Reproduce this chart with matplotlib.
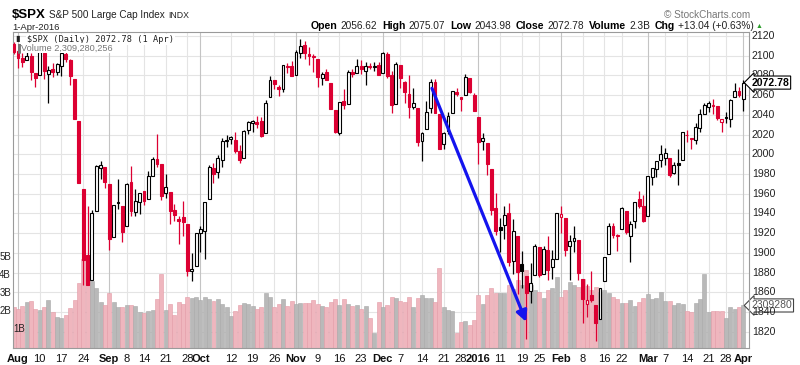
import matplotlib

matplotlib.use("Agg")
import matplotlib.pyplot as plt
import numpy as np
import pandas as pd

plt.rcParams["font.family"] = ["Liberation Sans", "DejaVu Sans"]

W, H = 800, 365
RED = "#dc0032"
PINK = "#efb6be"
GRAY = "#b9b9b9"
GRID = "#e4e4e4"
MONTH_GRID = "#c4c4c4"

HOLIDAYS = ["2015-09-07", "2015-11-26", "2015-12-25", "2016-01-01",
            "2016-01-18", "2016-02-15", "2016-03-25"]
PREV_CLOSE = 2108.63  # close of 30-Jul-2015

# one row per week
opens = [
    2111.6,
    2104.5, 2097.7, 2095.3, 2100.0, 2082.6,
    2080.9, 2102.7, 2081.1, 2086.2, 2083.2,
    2089.7, 2101.9, 2095.7, 2076.6, 2034.1,
    1965.2, 1898.1, 1872.8, 1942.8, 1986.1,
    1986.7, 1970.1, 1916.5, 1950.8, 1947.8,
    1927.3, 1971.5, 1941.6, 1951.5,
    1963.1, 1955.1, 1978.0, 1995.3, 1989.7,
    1960.8, 1961.4, 1943.2, 1934.8, 1935.9,
    1929.2, 1881.9, 1887.1, 1919.7, 1921.8,
    1954.3, 1986.6, 1982.3, 1994.0, 2013.7,
    2015.7, 2015.0, 2003.7, 1996.5, 2024.4,
    2031.7, 2033.1, 2033.5, 2021.9, 2058.2,
    2075.1, 2068.8, 2066.5, 2088.9, 2090.0,
    2080.8, 2102.6, 2110.6, 2101.7, 2098.6,
    2096.6, 2077.2, 2083.4, 2072.3, 2044.6,
    2022.1, 2053.7, 2051.0, 2083.7, 2082.8,
    2089.4, 2084.4, 2089.3, 2088.8,
    2090.9, 2082.9, 2101.7, 2080.7, 2051.2,
    2090.4, 2073.4, 2061.2, 2047.9, 2047.3,
    2013.4, 2025.6, 2046.5, 2073.8, 2040.8,
    2010.3, 2023.2, 2042.2, 2063.5,
    2057.8, 2060.5, 2077.3, 2060.6,
    2038.2, 2013.8, 2011.7, 1985.3, 1946.0,
    1926.1, 1927.8, 1940.3, 1891.7, 1916.7,
    1888.7, 1876.2, 1861.5, 1877.4,
    1906.3, 1878.8, 1902.5, 1885.2, 1894.0,
    1936.9, 1935.3, 1907.1, 1911.7, 1913.1,
    1873.3, 1848.5, 1857.1, 1847.0, 1833.4,
    1871.4, 1898.8, 1927.6, 1916.7,
    1924.4, 1942.4, 1917.6, 1931.9, 1955.0,
    1947.1, 1937.1, 1976.6, 1985.6, 1994.0,
    1996.1, 1996.1, 1981.4, 1991.0, 1994.7,
    2019.3, 2015.3, 2014.2, 2026.9, 2041.2,
    2047.9, 2048.6, 2048.6, 2032.5,
    2037.9, 2035.8, 2058.3, 2063.8, 2056.6,
]
highs = [
    2114.2,
    2105.7, 2102.5, 2112.7, 2103.3, 2082.6,
    2105.3, 2102.7, 2089.1, 2092.9, 2092.5,
    2102.9, 2103.5, 2096.2, 2076.6, 2034.1,
    1965.2, 1948.0, 1943.1, 1989.6, 1993.5,
    1986.7, 1970.1, 1948.9, 1975.0, 1947.8,
    1970.4, 1988.6, 1965.3, 1961.1,
    1963.1, 1983.2, 1997.3, 2020.9, 1989.7,
    1979.6, 1961.4, 1949.5, 1937.2, 1952.9,
    1929.2, 1899.5, 1920.5, 1927.2, 1951.4,
    1989.2, 1991.6, 1999.3, 2016.5, 2020.1,
    2018.7, 2022.3, 2009.6, 2024.2, 2033.5,
    2034.5, 2039.1, 2038.0, 2055.2, 2079.7,
    2075.1, 2070.4, 2090.4, 2092.5, 2094.3,
    2106.2, 2116.5, 2114.6, 2108.8, 2101.9,
    2096.6, 2083.7, 2086.9, 2072.3, 2044.6,
    2053.2, 2066.7, 2085.3, 2086.7, 2097.1,
    2095.6, 2094.1, 2093.0, 2093.3,
    2093.8, 2103.4, 2104.3, 2085.0, 2093.8,
    2090.4, 2073.9, 2080.3, 2067.7, 2047.3,
    2022.9, 2053.9, 2076.7, 2076.4, 2040.8,
    2022.9, 2042.7, 2064.7, 2067.4,
    2057.8, 2081.6, 2077.3, 2062.5,
    2038.2, 2021.9, 2011.7, 1985.3, 1960.4,
    1935.7, 1947.4, 1950.3, 1934.5, 1916.7,
    1901.4, 1876.2, 1889.9, 1908.9,
    1906.3, 1906.7, 1917.0, 1903.0, 1940.2,
    1947.2, 1935.3, 1918.0, 1927.4, 1913.1,
    1873.3, 1868.3, 1881.6, 1847.0, 1864.8,
    1895.8, 1930.7, 1930.0, 1918.8,
    1946.7, 1942.4, 1932.1, 1951.8, 1963.0,
    1958.3, 1978.4, 1986.5, 1993.7, 2009.1,
    2006.1, 1996.1, 1992.7, 2005.1, 2022.4,
    2024.6, 2015.9, 2032.0, 2046.2, 2052.4,
    2053.9, 2056.6, 2048.6, 2036.0,
    2042.7, 2055.9, 2072.2, 2067.9, 2075.1,
]
lows = [
    2102.1,
    2087.3, 2088.6, 2095.3, 2075.5, 2067.9,
    2080.9, 2076.5, 2052.1, 2078.3, 2080.6,
    2079.3, 2094.1, 2070.5, 2035.7, 1970.9,
    1867.0, 1867.1, 1872.8, 1942.8, 1975.2,
    1965.9, 1903.1, 1916.5, 1944.7, 1911.0,
    1927.3, 1937.9, 1937.2, 1939.2,
    1948.3, 1954.3, 1977.9, 1986.7, 1953.5,
    1955.8, 1929.2, 1932.6, 1908.9, 1916.8,
    1876.9, 1871.9, 1887.1, 1900.7, 1893.7,
    1954.3, 1971.2, 1976.4, 1987.5, 2007.6,
    2010.6, 2001.8, 1990.7, 1996.5, 2020.5,
    2022.3, 2026.6, 2017.2, 2021.9, 2058.2,
    2066.5, 2058.8, 2063.1, 2082.6, 2079.3,
    2080.8, 2097.5, 2097.0, 2090.4, 2083.7,
    2068.2, 2069.9, 2074.9, 2045.7, 2022.0,
    2019.4, 2045.9, 2051.0, 2078.8, 2082.8,
    2081.4, 2070.3, 2086.3, 2084.1,
    2080.4, 2082.9, 2077.1, 2042.4, 2051.2,
    2066.8, 2052.3, 2036.5, 2045.7, 2008.8,
    1993.3, 2025.6, 2042.4, 2041.7, 2005.3,
    2005.9, 2020.5, 2042.2, 2058.7,
    2044.2, 2060.5, 2062.0, 2043.6,
    1989.7, 2004.2, 1979.1, 1938.8, 1918.5,
    1901.1, 1914.4, 1886.5, 1878.9, 1857.8,
    1864.6, 1812.3, 1849.0, 1877.4,
    1876.0, 1878.8, 1872.7, 1873.7, 1894.0,
    1920.3, 1897.3, 1872.7, 1900.5, 1872.7,
    1828.5, 1834.9, 1850.3, 1810.1, 1833.4,
    1871.4, 1898.8, 1915.1, 1902.2,
    1924.4, 1919.4, 1891.0, 1925.4, 1945.8,
    1931.8, 1937.1, 1968.8, 1977.4, 1986.8,
    1989.4, 1977.4, 1979.8, 1969.2, 1994.7,
    2012.1, 2005.2, 2010.0, 2022.2, 2041.2,
    2043.1, 2040.6, 2034.9, 2022.5,
    2032.0, 2028.1, 2058.3, 2058.0, 2044.0,
]
closes = [
    2103.84,
    2098.04, 2093.32, 2099.84, 2083.56, 2077.57,
    2104.18, 2084.07, 2086.05, 2083.39, 2091.54,
    2102.44, 2096.92, 2079.61, 2035.73, 1970.89,
    1893.21, 1867.61, 1940.51, 1987.66, 1988.87,
    1972.18, 1913.85, 1948.86, 1951.13, 1921.22,
    1969.41, 1942.04, 1952.29, 1961.05,
    1953.03, 1978.09, 1995.31, 1990.20, 1958.03,
    1966.97, 1942.74, 1938.76, 1932.24, 1931.34,
    1881.77, 1884.09, 1920.03, 1923.82, 1951.36,
    1987.05, 1979.92, 1995.83, 2013.43, 2014.89,
    2017.46, 2003.69, 1994.24, 2023.86, 2033.11,
    2033.66, 2030.77, 2018.94, 2052.51, 2075.15,
    2071.18, 2065.89, 2090.35, 2089.41, 2079.36,
    2104.05, 2109.79, 2102.31, 2099.93, 2099.20,
    2078.58, 2081.72, 2075.00, 2045.97, 2023.04,
    2053.19, 2050.44, 2083.58, 2081.24, 2089.17,
    2086.59, 2089.14, 2088.87, 2090.11,
    2080.41, 2102.63, 2079.51, 2049.62, 2091.69,
    2077.07, 2063.59, 2047.62, 2052.23, 2012.37,
    2021.94, 2043.41, 2073.07, 2041.89, 2005.55,
    2021.15, 2038.97, 2064.29, 2060.99,
    2056.50, 2078.36, 2063.36, 2043.94,
    2012.66, 2016.71, 1990.26, 1943.09, 1922.03,
    1923.67, 1938.68, 1890.28, 1921.84, 1880.33,
    1881.33, 1859.33, 1868.99, 1906.90,
    1877.08, 1903.63, 1882.95, 1893.36, 1940.24,
    1939.38, 1903.03, 1912.53, 1915.45, 1880.05,
    1853.44, 1852.21, 1851.86, 1829.08, 1864.78,
    1895.58, 1926.82, 1917.83, 1917.78,
    1945.50, 1921.27, 1929.80, 1951.70, 1948.05,
    1932.23, 1978.35, 1986.45, 1993.40, 1999.99,
    2001.76, 1979.26, 1989.26, 1989.57, 2022.19,
    2019.64, 2015.93, 2027.22, 2040.59, 2049.58,
    2051.60, 2049.80, 2036.71, 2035.94,
    2037.05, 2055.01, 2063.95, 2059.74, 2072.78,
]
volumes_b = [
    2.22,
    2.10, 2.26, 2.48, 2.57, 2.10,
    2.04, 2.20, 2.63, 1.93, 1.67,
    1.60, 1.78, 2.17, 2.60, 3.55,
    4.85, 4.70, 3.65, 3.27, 2.52,
    2.36, 3.00, 2.48, 2.20, 2.24,
    2.33, 2.33, 2.27, 1.96,
    1.87, 2.00, 2.07, 2.65, 4.05,
    2.07, 2.40, 1.80, 2.50, 2.40,
    2.80, 2.70, 2.77, 2.60, 2.77,
    2.67, 2.55, 2.67, 2.40, 2.22,
    1.75, 1.98, 2.36, 2.44, 2.40,
    2.30, 2.13, 2.20, 3.00, 2.75,
    2.20, 2.40, 2.67, 2.27, 2.55,
    2.40, 2.44, 2.44, 2.44, 2.60,
    2.40, 2.27, 2.20, 2.50, 2.67,
    2.36, 2.67, 2.40, 2.30, 2.36,
    2.13, 2.30, 1.62, 0.80,
    2.50, 2.22, 2.36, 2.80, 2.70,
    2.57, 2.52, 2.80, 2.24, 2.74,
    2.88, 2.74, 2.70, 2.52, 4.35,
    2.20, 2.06, 2.02, 0.78,
    1.42, 1.48, 1.24, 1.51,
    2.88, 2.39, 2.88, 3.25, 3.01,
    3.01, 2.97, 3.43, 3.20, 3.70,
    3.43, 4.26, 3.43, 3.16,
    3.07, 2.74, 3.16, 3.25, 3.89,
    2.80, 3.16, 3.62, 3.43, 3.30,
    3.74, 3.38, 3.16, 3.34, 3.07,
    3.16, 3.01, 2.76, 2.65,
    2.46, 2.46, 2.60, 2.28, 2.52,
    2.74, 2.94, 2.67, 2.74, 3.07,
    2.57, 2.57, 2.34, 2.46, 2.39,
    2.00, 1.97, 2.43, 2.65, 4.04,
    1.97, 2.02, 2.00, 2.02,
    1.64, 2.20, 2.10, 2.20, 2.31,
]

tick_dates = ["2015-08-03", "2015-08-10", "2015-08-17", "2015-08-24",
              "2015-09-01", "2015-09-08", "2015-09-14", "2015-09-21",
              "2015-09-28", "2015-10-01", "2015-10-12", "2015-10-19",
              "2015-10-26", "2015-11-02", "2015-11-09", "2015-11-16",
              "2015-11-23", "2015-12-01", "2015-12-07", "2015-12-14",
              "2015-12-21", "2015-12-28", "2016-01-04", "2016-01-11",
              "2016-01-19", "2016-01-25", "2016-02-01", "2016-02-08",
              "2016-02-16", "2016-02-22", "2016-03-01", "2016-03-07",
              "2016-03-14", "2016-03-21", "2016-03-28", "2016-04-01"]
tick_labels = ["Aug", "10", "17", "24", "Sep", "8", "14", "21", "28", "Oct",
               "12", "19", "26", "Nov", "9", "16", "23", "Dec", "7", "14",
               "21", "28", "2016", "11", "19", "25", "Feb", "8", "16", "22",
               "Mar", "7", "14", "21", "28", "Apr"]
price_ticks = list(range(1820, 2121, 20))
vol_ticks_b = [1, 2, 3, 4, 5]

# trend arrow: from mid-Dec high to the January low
arrow_from = ("2015-12-16", 2067)
arrow_to = ("2016-01-20", 1830)

dates = pd.bdate_range("2015-07-31", "2016-04-01", freq="C", holidays=HOLIDAYS)
o, h, l, c = map(np.array, (opens, highs, lows, closes))
vol = np.array(volumes_b)
assert len(dates) == len(o) == len(h) == len(l) == len(c) == len(vol)
x = np.arange(len(dates))
pos = {d.strftime("%Y-%m-%d"): i for i, d in enumerate(dates)}
prev = np.r_[PREV_CLOSE, c[:-1]]
up = c >= prev
hollow = c >= o

fig = plt.figure(figsize=(W / 100, H / 100), dpi=100)
fig.patch.set_facecolor("white")

L, R, T, B = 12.5, 749, 32, 347.5
rect = [L / W, 1 - B / H, (R - L) / W, (B - T) / H]
XLIM = (-0.28, 169.3)
YLIM = (1804.0, 2124.1)

ax_bg = fig.add_axes(rect, zorder=0)
ax_vol = fig.add_axes(rect, zorder=1)
ax = fig.add_axes(rect, zorder=2)
for a in (ax_bg, ax_vol, ax):
    a.set_xlim(*XLIM)
    a.set_xticks([])
    a.set_yticks([])
ax_vol.patch.set_alpha(0)
ax.patch.set_alpha(0)
ax_bg.set_ylim(*YLIM)
ax_vol.set_ylim(0, 17.33)
ax.set_ylim(*YLIM)

# grid
for p in price_ticks:
    ax_bg.axhline(p, color=GRID, lw=0.8)
for d, lab in zip(tick_dates, tick_labels):
    month = not lab.isdigit() or lab == "2016"
    ax_bg.axvline(pos[d], color=MONTH_GRID if month else GRID, lw=0.8)
for a in (ax_bg, ax_vol):
    for s in a.spines.values():
        s.set_visible(False)
for s in ax.spines.values():
    s.set_color("#9a9a9a")
    s.set_linewidth(0.8)

# volume
ax_vol.bar(x, vol, width=0.92, color=np.where(up, GRAY, PINK),
           edgecolor=np.where(up, "#a8a8a8", "#e39aa6"), linewidth=0.4)

# candles
col = np.where(up, "black", RED)
ax.vlines(x, l, h, colors=col, lw=0.9, zorder=2)
body_lo = np.minimum(o, c)
body_h = np.maximum(np.abs(c - o), 0.8)
face = [("white" if hol else cc) for hol, cc in zip(hollow, col)]
ax.bar(x, body_h, bottom=body_lo, width=0.66, color=face, edgecolor=col,
       linewidth=0.8, zorder=3)

# arrow
ax.annotate("", xy=(pos[arrow_to[0]], arrow_to[1]),
            xytext=(pos[arrow_from[0]] + 0.3, arrow_from[1]),
            arrowprops=dict(arrowstyle="-|>", color="#1414ee", lw=2.3,
                            mutation_scale=16, shrinkA=0, shrinkB=0),
            zorder=5)

# x tick labels
for d, lab in zip(tick_dates, tick_labels):
    bold = not lab.isdigit() or lab == "2016"
    ax.text(pos[d], -0.022, lab, transform=ax.get_xaxis_transform(),
            ha="center", va="top", fontsize=8,
            fontweight="bold" if bold else "normal", color="#111")

# right price labels
for p in price_ticks:
    ax.text(1.004, p, str(p), transform=ax.get_yaxis_transform(),
            ha="left", va="center", fontsize=7.6, color="#222", clip_on=False)

# left volume labels
for v in vol_ticks_b:
    yy = 1 - (B - v * 18.2) / H
    if v == 1:
        fig.text(13.5 / W, yy, f"{v}B", ha="left", va="center", fontsize=7,
                 color="#222")
    else:
        fig.text(11 / W, yy, f"{v}B", ha="right", va="center", fontsize=7,
                 color="#222")

# value tags
ax.text(1.003, c[-1], f"{c[-1]:.2f}", transform=ax.get_yaxis_transform(),
        ha="left", va="center", fontsize=7.5, fontweight="bold", color="black",
        bbox=dict(boxstyle="larrow,pad=0.15", fc="white", ec="black", lw=0.8),
        zorder=6, clip_on=False)
ax_vol.text(1.003, vol[-1], "2309280", transform=ax_vol.get_yaxis_transform(),
            ha="left", va="center", fontsize=7.5, color="#555",
            bbox=dict(boxstyle="larrow,pad=0.15", fc="white", ec="#444", lw=0.8),
            zorder=6, clip_on=False)

# legend inside plot
fig.text(27 / W, 1 - 39.5 / H, f"$SPX (Daily) {c[-1]:.2f} (1 Apr)",
         family="DejaVu Sans Mono", fontsize=6.2, color="#222",
         va="center", ha="left", zorder=10,
         bbox=dict(boxstyle="square,pad=0.15", fc="white", ec="none"))
fig.text(21 / W, 1 - 48 / H, "Volume 2,309,280,256", fontsize=6.6,
         color="#777", va="center", ha="left", zorder=10,
         bbox=dict(boxstyle="square,pad=0.1", fc="white", ec="none"))
fig.text(15.5 / W, 1 - 39.5 / H, "\u25ae", fontsize=6, color="#222",
         va="center", ha="left", zorder=11)
fig.text(15 / W, 1 - 48 / H, "\u2590", fontsize=6, color="#777",
         va="center", ha="left", zorder=11)

# header
renderer = fig.canvas.get_renderer()


def row(x0, ytop, parts):
    xx = x0
    for s, size, weight, color, gap in parts:
        t = fig.text(xx / W, 1 - ytop / H, s, fontsize=size, fontweight=weight,
                     color=color, va="center", ha="left")
        bb = t.get_window_extent(renderer)
        xx = bb.x1 + gap


row(12, 15, [("$SPX", 9.5, "bold", "black", 3),
             ("S&P 500 Large Cap Index", 7.2, "normal", "#222", 4),
             ("INDX", 6.3, "normal", "#222", 0)])
fig.text(12 / W, 1 - 27 / H, "1-Apr-2016", fontsize=6.8, color="#222",
         va="center", ha="left")
row(311, 26, [("Open", 7.6, "bold", "black", 3),
              ("2056.62", 7.3, "normal", "#222", 5),
              ("High", 7.6, "bold", "black", 3),
              ("2075.07", 7.3, "normal", "#222", 5),
              ("Low", 7.6, "bold", "black", 3),
              ("2043.98", 7.3, "normal", "#222", 5),
              ("Close", 7.6, "bold", "black", 3),
              ("2072.78", 7.3, "normal", "#222", 5),
              ("Volume", 7.6, "bold", "black", 3),
              ("2.3B", 7.3, "normal", "#222", 5),
              ("Chg", 7.6, "bold", "black", 3),
              ("+13.04 (+0.63%)", 7.3, "normal", "#222", 2),
              ("\u25b2", 5, "normal", "#2a9d2a", 0)])
fig.text(750 / W, 1 - 15 / H, "\u00a9 StockCharts.com", fontsize=7.2,
         color="#777", va="center", ha="right")

fig.savefig("out.png", dpi=100, facecolor="white")
